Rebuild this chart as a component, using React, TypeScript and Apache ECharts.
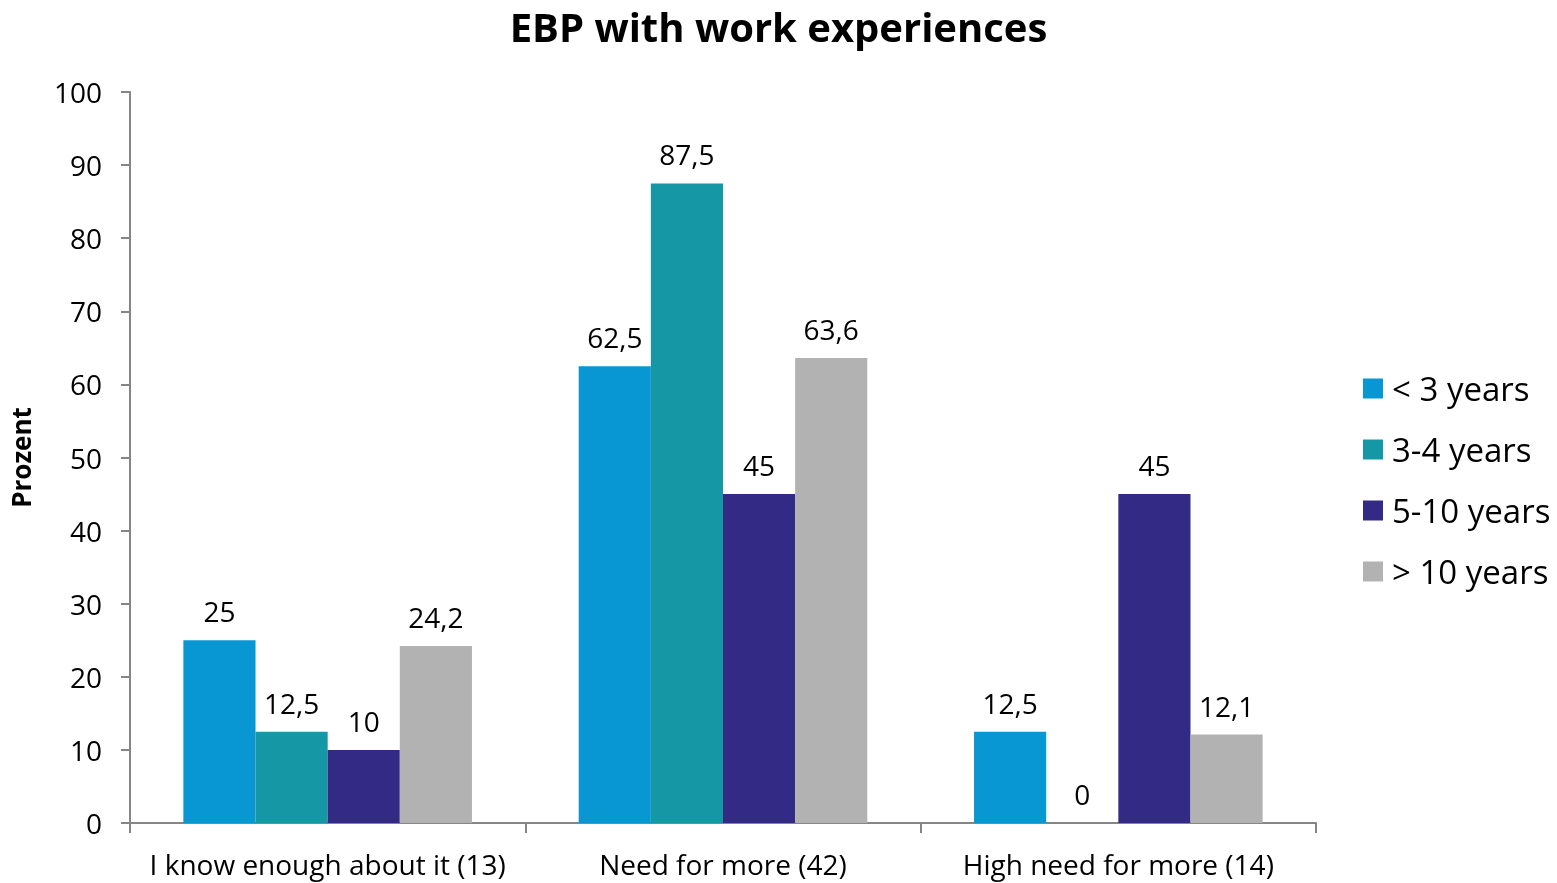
import React, { useEffect, useRef } from "react";
import * as echarts from "echarts";

const categories = ["I know enough about it (13)", "Need for more (42)", "High need for more (14)"];
const seriesNames = ["< 3 years", "3-4 years", "5-10 years", "> 10 years"];
const lessThan3 = [25, 62.5, 12.5];
const from3to4 = [12.5, 87.5, 0];
const from5to10 = [10, 45, 45];
const moreThan10 = [24.2, 63.6, 12.1];
const colors = ["#0897D3", "#1697A6", "#332A86", "#B2B2B2"];
const yTicks = { min: 0, max: 100, interval: 10 };

const FONT = "'Open Sans', 'Noto Sans', sans-serif";

export default function App() {
  const ref = useRef<HTMLDivElement>(null);
  useEffect(() => {
    if (!ref.current) return;
    const chart = echarts.init(ref.current, null, { renderer: "svg" });
    const values = [lessThan3, from3to4, from5to10, moreThan10];
    chart.setOption({
      animation: false,
      textStyle: { fontFamily: FONT },
      title: {
        text: "EBP with work experiences",
        left: "center",
        top: 1,
        textStyle: { fontFamily: FONT, fontSize: 40, fontWeight: "bold", color: "#000" },
      },
      legend: {
        orient: "vertical",
        left: 1358,
        top: 367,
        itemWidth: 20,
        itemHeight: 20,
        itemGap: 28,
        icon: "rect",
        textStyle: { fontFamily: FONT, fontSize: 33, color: "#000", padding: [0, 0, 0, 4] },
        data: seriesNames,
      },
      grid: { left: 130, right: 241, top: 92, bottom: 60, containLabel: false },
      xAxis: {
        type: "category",
        data: categories,
        axisLine: { lineStyle: { color: "#868686", width: 2 } },
        axisTick: { show: true, length: 10, lineStyle: { color: "#868686", width: 2 } },
        axisLabel: { fontFamily: FONT, fontSize: 28, color: "#000", margin: 27, interval: 0 },
      },
      yAxis: {
        type: "value",
        min: yTicks.min,
        max: yTicks.max,
        interval: yTicks.interval,
        name: "Prozent",
        nameLocation: "middle",
        nameGap: 96,
        nameRotate: 90,
        nameTextStyle: { fontFamily: FONT, fontSize: 26, fontWeight: "bold", color: "#000" },
        axisLine: { show: true, lineStyle: { color: "#868686", width: 2 } },
        axisTick: { show: true, length: 9, lineStyle: { color: "#868686", width: 2 } },
        splitLine: { show: false },
        axisLabel: { fontFamily: FONT, fontSize: 28, color: "#000", margin: 28 },
      },
      series: seriesNames.map((name, i) => ({
        name,
        type: "bar",
        data: values[i],
        barGap: "0%",
        barCategoryGap: "27%",
        itemStyle: { color: colors[i] },
        label: {
          show: true,
          position: "top",
          distance: 15,
          fontFamily: FONT,
          fontSize: 28,
          color: "#000",
          formatter: (p: any) => String(p.value).replace(".", ","),
        },
      })),
    });
    return () => chart.dispose();
  }, []);
  return <div ref={ref} style={{ position: "fixed", left: 0, top: 0, width: 1557, height: 883 }} />;
}
